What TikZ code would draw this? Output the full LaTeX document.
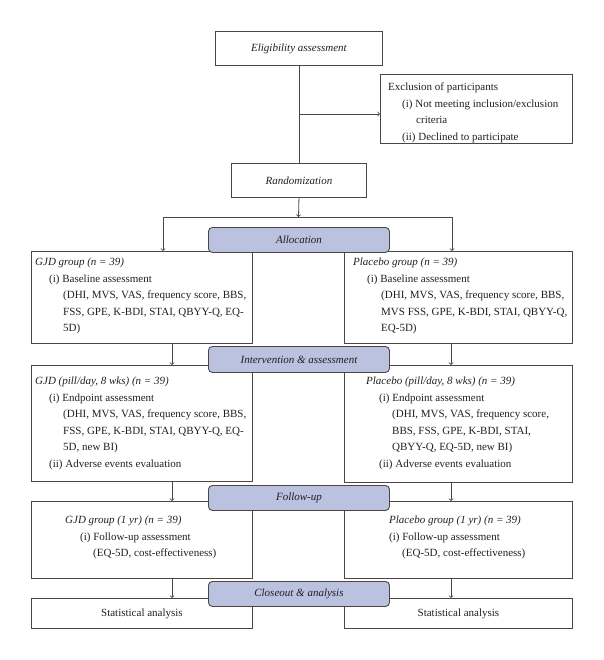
\documentclass[tikz,border=0pt]{standalone}
\usepackage{fontspec}
\setmainfont{Liberation Serif}
\definecolor{pillblue}{RGB}{186,194,224}
\definecolor{linegray}{RGB}{77,69,68}
\definecolor{inkblack}{RGB}{35,31,32}
\newcommand{\basefont}{\fontsize{11}{16.5}\selectfont}
\tikzset{
  box/.style={draw=linegray, line width=0.9pt, anchor=north west, inner sep=0pt, text=inkblack},
  pill/.style={draw=linegray, line width=0.9pt, fill=pillblue, rounded corners=4pt, anchor=north west,
    minimum width=181pt, minimum height=25pt, inner sep=0pt, text=inkblack, font=\basefont\itshape},
  txt/.style={anchor=north west, align=left, inner sep=0pt, text=inkblack},
  conn/.style={draw=linegray, line width=0.8pt},
}
\begin{document}
\begin{tikzpicture}[x=1pt, y=1pt, font=\basefont]
			\useasboundingbox (0,0) rectangle (603,-660);
			% boxes
			\node[box, minimum width=167pt, minimum height=34pt] (elig) at (215,-31) {\itshape Eligibility assessment};
			\node[box, minimum width=192pt, minimum height=69pt] (excl) at (380,-74) {};
			\node[box, minimum width=135pt, minimum height=34pt] (rand) at (231,-163) {\itshape Randomization};
			\node[box, minimum width=221pt, minimum height=92pt] (gjdbase) at (31,-251) {};
			\node[box, minimum width=228pt, minimum height=92pt] (plcbase) at (344,-251) {};
			\node[box, minimum width=221pt, minimum height=116pt] (gjdpill) at (31,-365) {};
			\node[box, minimum width=228pt, minimum height=117pt] (plcpill) at (344,-365) {};
			\node[box, minimum width=221pt, minimum height=77pt] (gjdfu) at (31,-501) {};
			\node[box, minimum width=228pt, minimum height=77pt] (plcfu) at (344,-501) {};
			\node[box, minimum width=221pt, minimum height=30pt] (gjdstat) at (31,-598) {Statistical analysis};
			\node[box, minimum width=228pt, minimum height=30pt] (plcstat) at (344,-598) {Statistical analysis};
			% box texts
			\node[txt] (excltxt) at (388,-83) {Exclusion of participants\\
				\hspace*{14pt}(i) Not meeting inclusion/exclusion\\
				\hspace*{28pt}criteria\\
				\hspace*{14pt}(ii) Declined to participate};
			\node[txt] (gjdbasetxt) at (35,-258) {\textit{GJD group (n = 39)}\\
				\hspace*{14pt}(i) Baseline assessment\\
				\hspace*{28pt}(DHI, MVS, VAS, frequency score, BBS,\\
				\hspace*{28pt}FSS, GPE, K-BDI, STAI, QBYY-Q, EQ-\\
				\hspace*{28pt}5D)};
			\node[txt] (plcbasetxt) at (353,-258) {\textit{Placebo group (n = 39)}\\
				\hspace*{14pt}(i) Baseline assessment\\
				\hspace*{28pt}(DHI, MVS, VAS, frequency score, BBS,\\
				\hspace*{28pt}MVS FSS, GPE, K-BDI, STAI, QBYY-Q,\\
				\hspace*{28pt}EQ-5D)};
			\node[txt] (gjdpilltxt) at (35,-377) {\textit{GJD (pill/day, 8 wks) (n = 39)}\\
				\hspace*{14pt}(i) Endpoint assessment\\
				\hspace*{28pt}(DHI, MVS, VAS, frequency score, BBS,\\
				\hspace*{28pt}FSS, GPE, K-BDI, STAI, QBYY-Q, EQ-\\
				\hspace*{28pt}5D, new BI)\\
				\hspace*{14pt}(ii) Adverse events evaluation};
			\node[txt] (plcpilltxt) at (366,-377) {\textit{Placebo (pill/day, 8 wks) (n = 39)}\\
				\hspace*{13pt}(i) Endpoint assessment\\
				\hspace*{26pt}(DHI, MVS, VAS, frequency score,\\
				\hspace*{26pt}BBS, FSS, GPE, K-BDI, STAI,\\
				\hspace*{26pt}QBYY-Q, EQ-5D, new BI)\\
				\hspace*{13pt}(ii) Adverse events evaluation};
			\node[txt] (gjdfutxt) at (65,-516) {\textit{GJD group (1 yr) (n = 39)}\\
				\hspace*{15pt}(i) Follow-up assessment\\
				\hspace*{28pt}(EQ-5D, cost-effectiveness)};
			\node[txt] (plcfutxt) at (389,-516) {\textit{Placebo group (1 yr) (n = 39)}\\
				(i) Follow-up assessment\\
				\hspace*{13pt}(EQ-5D, cost-effectiveness)};
			% connectors
			\coordinate (branch) at (298.5,-114);
			\coordinate (split) at (298.5,-217);
			\coordinate (splitl) at (163,-217);
			\coordinate (splitr) at (452,-217);
			\coordinate (lx) at (172,0);
			\coordinate (rx) at (451,0);
			\draw[conn] (elig.south) -- (rand.north);
			\draw[conn,->] (branch) -- (branch -| excl.west);
			\draw[conn,->] (rand.south) -- (split);
			\draw[conn] (splitl) -- (splitr);
			\draw[conn,->] (splitl) -- (splitl |- gjdbase.north);
			\draw[conn,->] (splitr) -- (splitr |- plcbase.north);
			\draw[conn,->] (gjdbase.south -| lx) -- (gjdpill.north -| lx);
			\draw[conn,->] (plcbase.south -| rx) -- (plcpill.north -| rx);
			\draw[conn,->] (gjdpill.south -| lx) -- (gjdfu.north -| lx);
			\draw[conn,->] (plcpill.south -| rx) -- (plcfu.north -| rx);
			\draw[conn,->] (gjdfu.south -| lx) -- (gjdstat.north -| lx);
			\draw[conn,->] (plcfu.south -| rx) -- (plcstat.north -| rx);
			% stage labels
			\node[pill] (alloc) at (208,-227) {Allocation};
			\node[pill, minimum height=26pt] (interv) at (208,-346) {Intervention \& assessment};
			\node[pill] (follow) at (208,-485) {Follow-up};
			\node[pill] (close) at (208,-581) {Closeout \& analysis};
\end{tikzpicture}
\end{document}
